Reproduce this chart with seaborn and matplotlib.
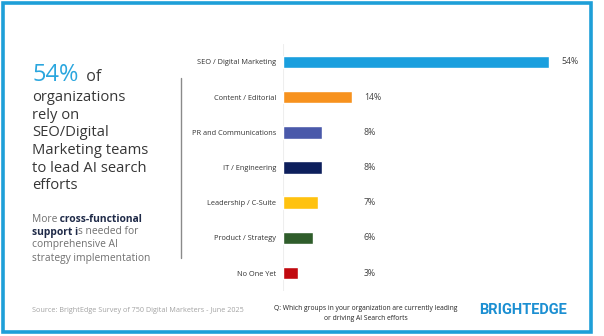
import matplotlib
matplotlib.use("Agg")
import matplotlib.pyplot as plt
import seaborn as sns
import pandas as pd
from matplotlib.patches import Rectangle
from matplotlib.lines import Line2D

# ---- data ----
categories = ["SEO / Digital Marketing", "Content / Editorial", "PR and Communications",
              "IT / Engineering", "Leadership / C-Suite", "Product / Strategy", "No One Yet"]
values = [54, 14, 8, 8, 7, 6, 3]
bar_colors = ["#1a9fde", "#f7921e", "#4a59aa", "#0d1f5c", "#ffc20f", "#2f5d2b", "#c1090f"]
value_labels = ["54%", "14%", "8%", "8%", "7%", "6%", "3%"]

W, H = 604, 336
sns.set_theme(style="white")
plt.rcParams["font.family"] = ["Open Sans", "DejaVu Sans"]

fig = plt.figure(figsize=(W / 100, H / 100), dpi=100)
fig.patch.set_facecolor("white")

def fx(x):
    return x / W

def fy(y):
    return 1 - y / H

# frame
fig.add_artist(Rectangle((fx(2.5), fy(331.5)), fx(588), (329) / H, transform=fig.transFigure,
                         fill=False, edgecolor="#1e9fd8", linewidth=2.6))

# bar axes
ax_left, ax_right = 283, 283 + 60 * 4.93
ax_top, ax_bot = 44.4, 290.6
ax = fig.add_axes([fx(ax_left), fy(ax_bot), fx(ax_right - ax_left), (ax_bot - ax_top) / H])
df = pd.DataFrame({"cat": categories, "val": values})
sns.barplot(data=df, y="cat", x="val", hue="cat", palette=bar_colors, legend=False,
            width=0.36, ax=ax, saturation=1)
ax.set_xlim(0, 60)
ax.set_ylim(6.5, -0.5)
ax.set_xlabel("")
ax.set_ylabel("")
ax.set_xticks([])
for s in ax.spines.values():
    s.set_visible(False)
ax.axvline(0, color="#eeeeee", lw=0.8, zorder=0)
ax.tick_params(axis="y", length=0, pad=5, labelsize=5.3, labelcolor="#333333")
for i, (v, lab) in enumerate(zip(values, value_labels)):
    ax.text(max(v, 14) + 2.4, i, lab, va="center", ha="left", fontsize=6.3, color="#444444")

# divider
fig.add_artist(Line2D([fx(181), fx(181)], [fy(78), fy(258)], transform=fig.transFigure,
                      color="#8a8a8a", lw=1.0))

renderer = fig.canvas.get_renderer()

def seq(x, y, parts):
    """draw text parts sequentially on a line; parts = [(text, color, weight, size)]"""
    for txt, col, wt, size in parts:
        t = fig.text(fx(x), fy(y), txt, fontsize=size, color=col, fontweight=wt,
                     ha="left", va="baseline")
        bb = t.get_window_extent(renderer=renderer)
        x += bb.width * 100 / fig.dpi

# headline
seq(32, 81, [("54%", "#2aa6de", "normal", 17), ("  of", "#3a3a3a", "normal", 11.5)])
head = ["organizations", "rely on", "SEO/Digital", "Marketing teams", "to lead AI search", "efforts"]
y0 = 101.5
for i, line in enumerate(head):
    fig.text(fx(32), fy(y0 + i * 17.5), line, fontsize=10.6, color="#363636",
             ha="left", va="baseline")

# sub paragraph
gray, navy = "#707070", "#1f2a48"
sub = [
    [("More", gray, "normal", 7.4), (" cross-functional", navy, "bold", 7.4)],
    [("support i", navy, "bold", 7.4), ("s needed for", gray, "normal", 7.4)],
    [("comprehensive AI", gray, "normal", 7.4)],
    [("strategy implementation", gray, "normal", 7.4)],
]
for i, parts in enumerate(sub):
    seq(32, 221.5 + i * 13, parts)

# footer
fig.text(fx(32), fy(310), "Source: BrightEdge Survey of 750 Digital Marketers - June 2025",
         fontsize=5.2, color="#a3a3a3", ha="left", va="center")
fig.text(fx(366), fy(309), "Q: Which groups in your organization are currently leading",
         fontsize=4.9, color="#222222", ha="center", va="center")
fig.text(fx(366), fy(318), "or driving AI Search efforts",
         fontsize=4.9, color="#222222", ha="center", va="center")
fig.text(fx(523.5), fy(309.5), "BRIGHTEDGE", fontsize=10.5, fontweight="bold",
         color="#1b8fd2", ha="center", va="center", family=["Roboto", "DejaVu Sans"])

fig.savefig("out.png", dpi=100)
